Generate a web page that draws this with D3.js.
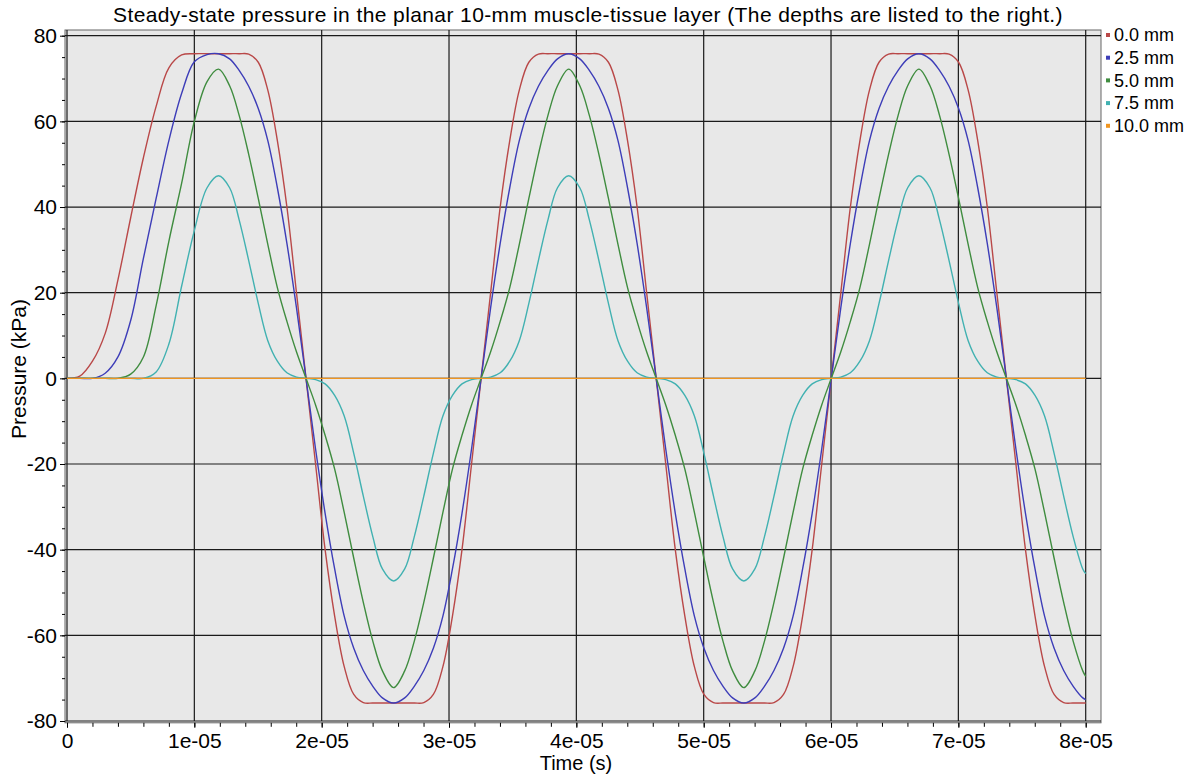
<!DOCTYPE html>
<html>
<head>
<meta charset="utf-8">
<script src="https://d3js.org/d3.v7.min.js"></script>
<style>
  body {margin: 0; background: #fff; font-family: "Liberation Sans", Arial, sans-serif;}
  .axis text {font: 21px "Liberation Sans", Arial, sans-serif; fill: #000;}
  .axis .domain {display: none;}
  .axis line {stroke: #000;}
  .title {font: 21px "Liberation Sans", Arial, sans-serif; letter-spacing: 0.4px;}
  .label {font: 20px "Liberation Sans", Arial, sans-serif;}
  .legend {font: 18px "Liberation Sans", Arial, sans-serif;}
</style>
</head>
<body>
<svg id="chart" width="1194" height="777"></svg>
<script>
// sample times, in units of 1e-05 s (denser around peaks and zero crossings)
var time = [0, 0.1, 0.2, 0.3, 0.4, 0.5, 0.6, 0.7, 0.8, 0.9, 1.0, 1.1,
            1.19,
            1.277, 1.352, 1.427, 1.502, 1.577, 1.652, 1.727, 1.802, 1.877,
            1.952, 2.027, 2.102, 2.177, 2.252, 2.327, 2.402, 2.477, 2.565,
            2.652, 2.727, 2.802, 2.877, 2.952, 3.027, 3.102, 3.177, 3.252,
            3.327, 3.402, 3.477, 3.552, 3.627, 3.702, 3.777, 3.852, 3.94,
            4.027, 4.102, 4.177, 4.252, 4.327, 4.402, 4.477, 4.552, 4.627,
            4.702, 4.777, 4.852, 4.927, 5.002, 5.077, 5.152, 5.227, 5.315,
            5.402, 5.477, 5.552, 5.627, 5.702, 5.777, 5.852, 5.927, 6.002,
            6.077, 6.152, 6.227, 6.302, 6.377, 6.452, 6.527, 6.602, 6.69,
            6.777, 6.852, 6.927, 7.002, 7.077, 7.152, 7.227, 7.302, 7.377,
            7.452, 7.527, 7.602, 7.677, 7.752, 7.827, 7.902, 7.977, 8.0];

// pressure (kPa) at each depth, same rows as time
var depth00 = [0, 0.5, 4, 10.5, 23, 37.5, 51.5, 63.5, 72.5, 75.5, 75.8, 75.8,
               75.8,
               75.8, 75.8, 75.7, 73.8, 67.3, 55.5, 40, 20, 0,
               -20, -40, -55.5, -67.3, -73.8, -75.7, -75.8, -75.8, -75.8,
               -75.8, -75.8, -75.7, -73.8, -67.3, -55.5, -40, -20, 0,
               20, 40, 55.5, 67.3, 73.8, 75.7, 75.8, 75.8, 75.8,
               75.8, 75.8, 75.7, 73.8, 67.3, 55.5, 40, 20, 0,
               -20, -40, -55.5, -67.3, -73.8, -75.7, -75.8, -75.8, -75.8,
               -75.8, -75.8, -75.7, -73.8, -67.3, -55.5, -40, -20, 0,
               20, 40, 55.5, 67.3, 73.8, 75.7, 75.8, 75.8, 75.8,
               75.8, 75.8, 75.7, 73.8, 67.3, 55.5, 40, 20, 0,
               -20, -40, -55.5, -67.3, -73.8, -75.7, -75.8, -75.8, -75.8];
var depth25 = [0, 0, 0, 1.2, 5, 13.5, 28, 42, 55.5, 66.5, 73.9, 75.6,
               75.8,
               74.6, 71.9, 68.2, 63, 55.5, 44.5, 31.5, 16.5, 0,
               -16.5, -31.5, -44.5, -55.5, -63, -68.2, -71.9, -74.6, -75.8,
               -74.6, -71.9, -68.2, -63, -55.5, -44.5, -31.5, -16.5, 0,
               16.5, 31.5, 44.5, 55.5, 63, 68.2, 71.9, 74.6, 75.8,
               74.6, 71.9, 68.2, 63, 55.5, 44.5, 31.5, 16.5, 0,
               -16.5, -31.5, -44.5, -55.5, -63, -68.2, -71.9, -74.6, -75.8,
               -74.6, -71.9, -68.2, -63, -55.5, -44.5, -31.5, -16.5, 0,
               16.5, 31.5, 44.5, 55.5, 63, 68.2, 71.9, 74.6, 75.8,
               74.6, 71.9, 68.2, 63, 55.5, 44.5, 31.5, 16.5, 0,
               -16.5, -31.5, -44.5, -55.5, -63, -68.2, -71.9, -74.6, -75.0];
var depth50 = [0, 0, 0, 0, 0, 1, 5, 17, 32, 45.5, 60, 69.3,
               72.2,
               68.3, 61.4, 52.3, 42, 31.3, 21.2, 13.3, 6.2, 0,
               -6.2, -13.3, -21.2, -31.3, -42, -52.3, -61.4, -68.3, -72.2,
               -68.3, -61.4, -52.3, -42, -31.3, -21.2, -13.3, -6.2, 0,
               6.2, 13.3, 21.2, 31.3, 42, 52.3, 61.4, 68.3, 72.2,
               68.3, 61.4, 52.3, 42, 31.3, 21.2, 13.3, 6.2, 0,
               -6.2, -13.3, -21.2, -31.3, -42, -52.3, -61.4, -68.3, -72.2,
               -68.3, -61.4, -52.3, -42, -31.3, -21.2, -13.3, -6.2, 0,
               6.2, 13.3, 21.2, 31.3, 42, 52.3, 61.4, 68.3, 72.2,
               68.3, 61.4, 52.3, 42, 31.3, 21.2, 13.3, 6.2, 0,
               -6.2, -13.3, -21.2, -31.3, -42, -52.3, -61.4, -68.3, -69.6];
var depth75 = [0, 0, 0, 0, 0, 0, 0, 1.5, 8, 21.5, 34.5, 44.5,
               47.3,
               44.5, 37, 27.5, 17.5, 8.8, 4, 1.3, 0.3, 0,
               -0.3, -1.3, -4, -8.8, -17.5, -27.5, -37, -44.5, -47.3,
               -44.5, -37, -27.5, -17.5, -8.8, -4, -1.3, -0.3, 0,
               0.3, 1.3, 4, 8.8, 17.5, 27.5, 37, 44.5, 47.3,
               44.5, 37, 27.5, 17.5, 8.8, 4, 1.3, 0.3, 0,
               -0.3, -1.3, -4, -8.8, -17.5, -27.5, -37, -44.5, -47.3,
               -44.5, -37, -27.5, -17.5, -8.8, -4, -1.3, -0.3, 0,
               0.3, 1.3, 4, 8.8, 17.5, 27.5, 37, 44.5, 47.3,
               44.5, 37, 27.5, 17.5, 8.8, 4, 1.3, 0.3, 0,
               -0.3, -1.3, -4, -8.8, -17.5, -27.5, -37, -44.5, -45.6];
// the deepest layer stays at zero over the whole record
var depth100Time = [0, 8.0];
var depth100 = [0, 0];

var seriesNames = ["0.0 mm", "2.5 mm", "5.0 mm", "7.5 mm", "10.0 mm"];
var seriesColors = ["#b94848", "#3d3db8", "#3f8c3f", "#41b1b1", "#f0951f"];

var xTicks = [0, 1, 2, 3, 4, 5, 6, 7, 8];
var xTickLabels = ["0", "1e-05", "2e-05", "3e-05", "4e-05", "5e-05", "6e-05", "7e-05", "8e-05"];
var yTicks = [-80, -60, -40, -20, 0, 20, 40, 60, 80];

var svg = d3.select("#chart"),
    margin = {top: 35.7, left: 67},
    width = 1018.7,
    height = 685.3,
    g = svg.append("g").attr("transform", "translate(" + margin.left + "," + margin.top + ")");

var x = d3.scaleLinear().domain([0, 8]).range([0, width]);
var y = d3.scaleLinear().domain([-80, 80]).range([height, 0]);

// plot background
g.append("rect")
    .attr("x", -2)
    .attr("y", -5.7)
    .attr("width", 1036)
    .attr("height", height + 7.5)
    .attr("fill", "#e8e8e8")
    .attr("stroke", "#666")
    .attr("stroke-width", 1);

// grid
g.append("g").selectAll("line")
    .data(xTicks)
    .enter().append("line")
    .attr("x1", function(d) { return x(d); })
    .attr("x2", function(d) { return x(d); })
    .attr("y1", -5.7)
    .attr("y2", height)
    .attr("stroke", "#1a1a1a")
    .attr("stroke-width", 1.2);

g.append("g").selectAll("line")
    .data(yTicks)
    .enter().append("line")
    .attr("x1", -2)
    .attr("x2", 1034)
    .attr("y1", function(d) { return y(d); })
    .attr("y2", function(d) { return y(d); })
    .attr("stroke", "#1a1a1a")
    .attr("stroke-width", 1.2);

// axes
var minorX = d3.range(0, 8.001, 0.2);
var minorY = d3.range(-80, 80.001, 5);

g.append("g")
    .attr("class", "axis")
    .attr("transform", "translate(0," + (height + 1.8) + ")")
    .call(d3.axisBottom(x).tickValues(minorX).tickSize(4).tickFormat(""));
g.append("g")
    .attr("class", "axis")
    .attr("transform", "translate(0," + (height + 1.8) + ")")
    .call(d3.axisBottom(x).tickValues(xTicks).tickSize(5).tickPadding(5)
        .tickFormat(function(d, i) { return xTickLabels[i]; }));

g.append("g")
    .attr("class", "axis")
    .attr("transform", "translate(-2,0)")
    .call(d3.axisLeft(y).tickValues(minorY).tickSize(3).tickFormat(""));
g.append("g")
    .attr("class", "axis")
    .attr("transform", "translate(-2,0)")
    .call(d3.axisLeft(y).tickValues(yTicks).tickSize(5).tickPadding(3)
        .tickFormat(function(d) { return String(d); }));

// lines
var allSeries = [
    {t: time, v: depth00},
    {t: time, v: depth25},
    {t: time, v: depth50},
    {t: time, v: depth75},
    {t: depth100Time, v: depth100}
];

g.append("g").selectAll("path")
    .data(allSeries)
    .enter().append("path")
    .attr("d", function(s) {
        return d3.line()
            .x(function(d, i) { return x(s.t[i]); })
            .y(function(d) { return y(d); })
            .curve(d3.curveCatmullRom.alpha(0.5))(s.v);
    })
    .attr("fill", "none")
    .attr("stroke", function(d, i) { return seriesColors[i]; })
    .attr("stroke-width", 1.4);

// title and labels
svg.append("text")
    .attr("class", "title")
    .attr("x", 588)
    .attr("y", 22)
    .attr("text-anchor", "middle")
    .text("Steady-state pressure in the planar 10-mm muscle-tissue layer (The depths are listed to the right.)");

svg.append("text")
    .attr("class", "label")
    .attr("x", 576)
    .attr("y", 770)
    .attr("text-anchor", "middle")
    .text("Time (s)");

svg.append("text")
    .attr("class", "label")
    .attr("transform", "translate(26,369) rotate(-90)")
    .attr("text-anchor", "middle")
    .style("font-size", "21px")
    .text("Pressure (kPa)");

// legend
var legend = svg.append("g")
    .attr("class", "legend")
    .selectAll("g")
    .data(seriesNames)
    .enter().append("g")
    .attr("transform", function(d, i) { return "translate(1106," + (35 + i * 22.7) + ")"; });

legend.append("rect")
    .attr("x", 0)
    .attr("y", -2)
    .attr("width", 4)
    .attr("height", 4)
    .attr("fill", function(d, i) { return seriesColors[i]; });

legend.append("text")
    .attr("x", 8)
    .attr("dy", "0.35em")
    .text(function(d) { return d; });
</script>
</body>
</html>
